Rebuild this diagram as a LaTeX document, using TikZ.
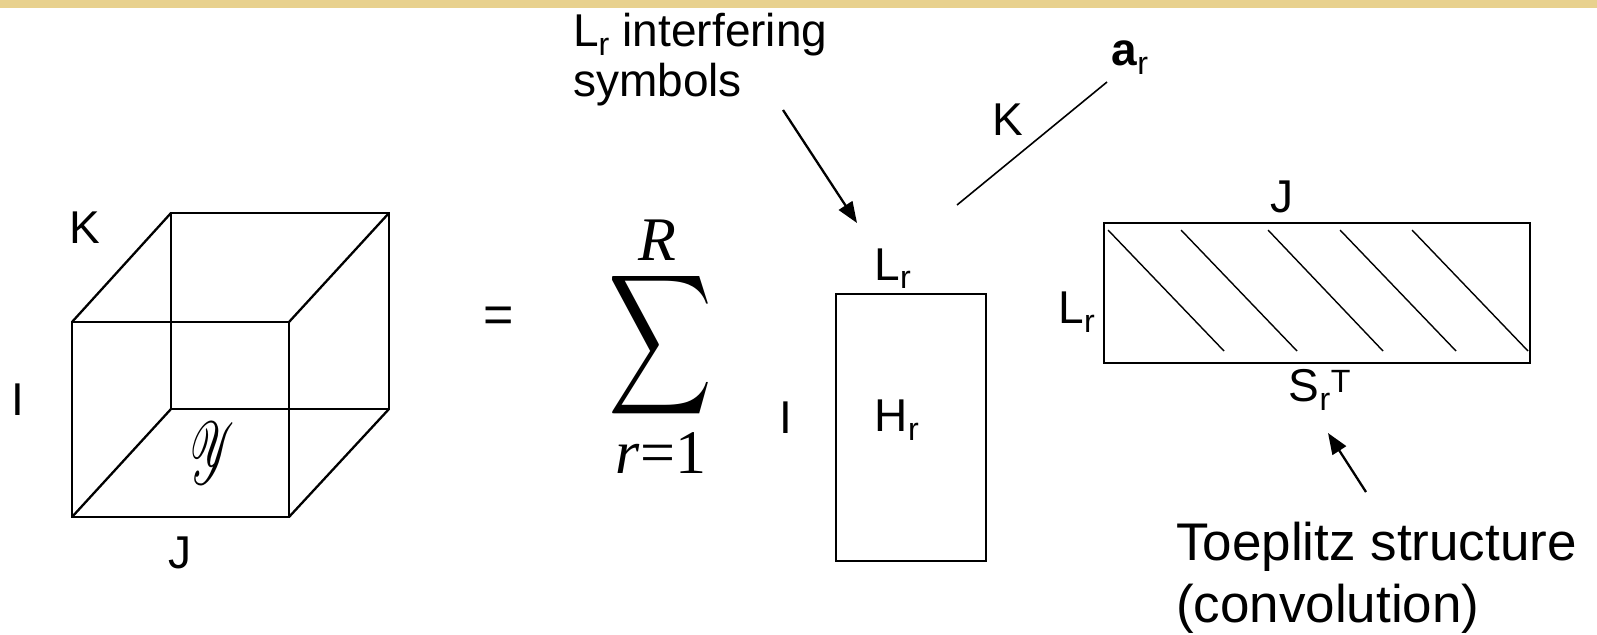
\documentclass[tikz,border=0pt]{standalone}
\usepackage{fontspec}
\setmainfont{Liberation Sans}
\newfontfamily\tnr{Liberation Serif}
\usepackage{graphicx}
\usepackage{mathrsfs}
\usetikzlibrary{arrows.meta}
\definecolor{barcol}{RGB}{232,209,142}
\newcommand\sbr{\textsubscript{r}}
\begin{document}
\begin{tikzpicture}[x=1pt,y=-1pt,line width=2.3pt,
  lab/.style={font=\fontsize{46}{50}\selectfont,inner sep=0pt},
  big/.style={font=\fontsize{53}{62}\selectfont,inner sep=0pt,align=left},
  hatch/.style={line width=1.4pt},
  pointer/.style={line width=2.3pt,-{Triangle[length=21pt,width=16pt]}}]
\useasboundingbox (0,0) rectangle (1597,634);
\fill[white] (0,0) rectangle (1597,634);
\fill[barcol] (0,0) rectangle (1597,8);
% cube
\coordinate (f1) at (72,322); \coordinate (f2) at (289,322);
\coordinate (f3) at (289,517); \coordinate (f4) at (72,517);
\coordinate (b1) at (171,213); \coordinate (b2) at (389,213);
\coordinate (b3) at (389,409); \coordinate (b4) at (171,409);
\draw (f1) -- (f2) -- (f3) -- (f4) -- cycle;
\draw (b1) -- (b2) -- (b3) -- (b4) -- cycle;
\draw (f1) -- (b1) (f2) -- (b2) (f3) -- (b3) (f4) -- (b4);
\node[lab] (cK) at (85,228) {K};
\node[lab] (cI) at (18,400) {I};
\node[lab] (cJ) at (180,553) {J};
\node[inner sep=0pt] (Y) at (213,453) {\resizebox{44pt}{62pt}{$\mathscr{Y}$}};
% equals and sum
\node[lab,font=\fontsize{52}{56}\selectfont] (eq) at (499,320) {=};
\node[inner sep=0pt,anchor=north] (sum) at (661,266) {\resizebox{104pt}{103pt}{$\displaystyle\sum$}};
\node[inner sep=0pt,font=\fontsize{62}{66}\selectfont\tnr\itshape] (R) at (657,240) {R};
\node[inner sep=0pt,font=\fontsize{62}{66}\selectfont\tnr] (r1) at (661,453) {\textit{r}=1};
% H box
\node[draw,anchor=north west,minimum width=150pt,minimum height=267pt,inner sep=0pt] (H) at (835,293) {};
\node[lab] (Hr) at (897,420) {H\sbr};
\node[lab] (HI) at (786,418) {I};
\node[lab,anchor=base] (HL) at (893,280) {L\sbr};
\node[lab,anchor=north west,align=left] (sym) at (572,12) {L\sbr{} interfering\\symbols};
\coordinate (symtail) at (783,110);
\coordinate (symtip) at (857,223);
\draw[pointer] (symtail) -- (symtip);
% a_r
\coordinate (a1) at (957,205); \coordinate (a2) at (1107,82);
\draw[line width=1.6pt] (a1) -- (a2);
\node[lab] (aK) at (1008,120) {K};
\node[lab] (ar) at (1130,58) {\textbf{a}\sbr};
% S box
\node[draw,anchor=north west,minimum width=426pt,minimum height=140pt,inner sep=0pt] (S) at (1103,222) {};
\draw[hatch] (1108,230) -- (1224,351);
\draw[hatch] (1181,230) -- (1297,351);
\draw[hatch] (1268,230) -- (1383,351);
\draw[hatch] (1340,230) -- (1456,351);
\draw[hatch] (1412,230) -- (1528,351);
\node[lab] (SJ) at (1282,197) {J};
\node[lab] (SL) at (1077,312) {L\sbr};
\node[lab] (ST) at (1320,390) {S\sbr\textsuperscript{T}};
\node[big,anchor=base west] (toe) at (1175,560) {Toeplitz structure};
\node[big,anchor=base west] (conv) at (1175,622) {(convolution)};
\coordinate (ttail) at (1366,492);
\coordinate (ttip) at (1328,433);
\draw[pointer] (ttail) -- (ttip);
\end{tikzpicture}
\end{document}
